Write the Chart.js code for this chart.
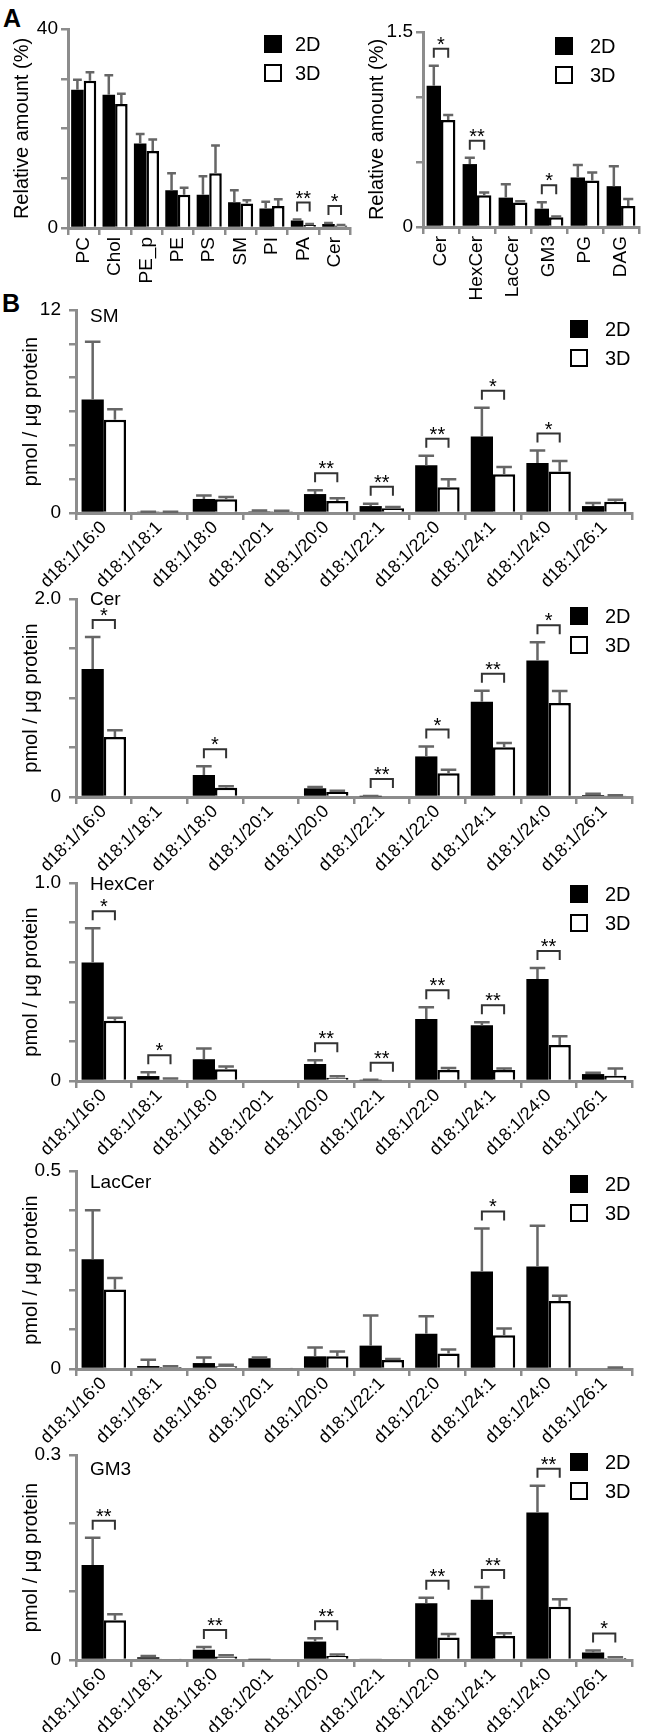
<!DOCTYPE html>
<html lang="en">
  <head>
    <meta charset="UTF-8" />
    <title>Lipid amounts 2D vs 3D</title>
    <script src="https://cdn.jsdelivr.net/npm/chart.js"></script>
    <style>
      body { margin: 0; background: #fff; }
      .fig { position: relative; width: 646px; height: 1732px; overflow: hidden; }
      .fig canvas { position: absolute; }
      .letter { position: absolute; font: bold 25px "Liberation Sans", Arial, sans-serif; }
    </style>
  </head>
  <body>
    <div class="fig">
      <div class="letter" style="left: 3px; top: 4px">A</div>
      <div class="letter" style="left: 2px; top: 289px">B</div>
      <canvas id="aLeft" width="360" height="300" style="left: 0; top: 0"></canvas>
      <canvas id="aRight" width="286" height="320" style="left: 360px; top: 0"></canvas>
      <canvas id="bSM" width="646" height="319" style="left: 0; top: 286px"></canvas>
      <canvas id="bCer" width="646" height="314" style="left: 0; top: 575px"></canvas>
      <canvas id="bHexCer" width="646" height="314" style="left: 0; top: 859px"></canvas>
      <canvas id="bLacCer" width="646" height="314" style="left: 0; top: 1147px"></canvas>
      <canvas id="bGM3" width="646" height="301" style="left: 0; top: 1431px"></canvas>
    </div>
  </body>
</html>

<script>
  // --- panel A: relative amounts (%)
  var lipidClasses = ["PC", "Chol", "PE_p", "PE", "PS", "SM", "PI", "PA", "Cer"];
  var classes2D = [27.8, 26.8, 17.0, 7.6, 6.7, 5.2, 3.9, 1.5, 0.8];
  var classesErr2D = [2.0, 3.9, 1.9, 3.4, 3.7, 2.4, 1.4, 0.2, 0.2];
  var classes3D = [29.6, 24.9, 15.5, 6.7, 11.0, 4.9, 4.4, 0.6, 0.5];
  var classesErr3D = [1.7, 2.1, 2.3, 1.4, 5.6, 0.7, 1.4, 0.2, 0.1];
  var classesSig = ["", "", "", "", "", "", "", "**", "*"];

  var minorClasses = ["Cer", "HexCer", "LacCer", "GM3", "PG", "DAG"];
  var minor2D = [1.086, 0.484, 0.226, 0.141, 0.381, 0.314];
  var minorErr2D = [0.154, 0.049, 0.103, 0.049, 0.095, 0.154];
  var minor3D = [0.823, 0.244, 0.188, 0.075, 0.358, 0.162];
  var minorErr3D = [0.039, 0.021, 0.01, 0.005, 0.061, 0.054];
  var minorSig = ["*", "**", "", "*", "", ""];

  // --- panel B: pmol / ug protein per species
  var species = ["d18:1/16:0", "d18:1/18:1", "d18:1/18:0", "d18:1/20:1", "d18:1/20:0",
                 "d18:1/22:1", "d18:1/22:0", "d18:1/24:1", "d18:1/24:0", "d18:1/26:1"];

  var sm2D = [6.71, 0.06, 0.83, 0.10, 1.12, 0.41, 2.82, 4.52, 2.96, 0.41];
  var smErr2D = [3.41, 0.02, 0.20, 0.05, 0.22, 0.14, 0.57, 1.70, 0.73, 0.18];
  var sm3D = [5.51, 0.06, 0.81, 0.10, 0.71, 0.28, 1.52, 2.29, 2.45, 0.67];
  var smErr3D = [0.63, 0.02, 0.14, 0.03, 0.16, 0.08, 0.47, 0.43, 0.63, 0.12];
  var smSig = ["", "", "", "", "**", "**", "**", "*", "*", ""];

  var cer2D = [1.293, 0, 0.222, 0, 0.088, 0.006, 0.41, 0.963, 1.38, 0.02];
  var cerErr2D = [0.323, 0, 0.088, 0, 0.012, 0.003, 0.10, 0.111, 0.182, 0.012];
  var cer3D = [0.606, 0, 0.094, 0, 0.05, 0, 0.239, 0.502, 0.949, 0.015];
  var cerErr3D = [0.067, 0, 0.014, 0, 0.014, 0, 0.037, 0.043, 0.121, 0.003];
  var cerSig = ["*", "", "*", "", "", "**", "*", "**", "*", ""];

  var hex2D = [0.598, 0.025, 0.11, 0, 0.086, 0.004, 0.313, 0.282, 0.515, 0.035];
  var hexErr2D = [0.174, 0.019, 0.054, 0, 0.019, 0.002, 0.059, 0.015, 0.056, 0.007];
  var hex3D = [0.304, 0.008, 0.059, 0, 0.017, 0, 0.056, 0.056, 0.182, 0.027];
  var hexErr3D = [0.015, 0.004, 0.014, 0, 0.007, 0, 0.01, 0.007, 0.044, 0.036];
  var hexSig = ["*", "*", "", "", "**", "**", "**", "**", "**", ""];

  var lac2D = [0.277, 0.0075, 0.015, 0.027, 0.032, 0.059, 0.089, 0.246, 0.259, 0];
  var lacErr2D = [0.124, 0.016, 0.014, 0.002, 0.022, 0.076, 0.044, 0.109, 0.103, 0];
  var lac3D = [0.201, 0.005, 0.007, 0.002, 0.032, 0.023, 0.039, 0.085, 0.172, 0.003];
  var lacErr3D = [0.029, 0.002, 0.004, 0, 0.012, 0.002, 0.01, 0.017, 0.013, 0.001];
  var lacSig = ["", "", "", "", "", "", "", "*", "", ""];

  var gm2D = [0.139, 0.004, 0.015, 0.001, 0.027, 0.002, 0.083, 0.088, 0.216, 0.011];
  var gmErr2D = [0.04, 0.002, 0.004, 0, 0.005, 0, 0.008, 0.019, 0.039, 0.003];
  var gm3D = [0.058, 0.001, 0.005, 0, 0.006, 0, 0.033, 0.035, 0.078, 0.003];
  var gmErr3D = [0.009, 0, 0.002, 0, 0.002, 0, 0.005, 0.004, 0.011, 0.001];
  var gmSig = ["**", "", "**", "", "**", "", "**", "**", "**", "*"];

  var axisGray = "#8c8c8c";
  var errGray = "#666";
  Chart.defaults.font.family = '"Liberation Sans", Arial, sans-serif';
  Chart.defaults.color = "#000";

  // error bars, significance brackets, legend and panel name
  var annotPlugin = {
    id: "annot",
    afterDatasetsDraw(chart, args, opts) {
      var ctx = chart.ctx;
      var yScale = chart.scales.y;
      var ds = chart.data.datasets;
      var m0 = chart.getDatasetMeta(0);
      var m1 = chart.getDatasetMeta(1);
      ctx.save();

      ctx.strokeStyle = errGray;
      ctx.lineWidth = 2.5;
      ds.forEach(function (d, di) {
        chart.getDatasetMeta(di).data.forEach(function (bar, i) {
          var e = d.errors[i];
          if (!e) return;
          var top = yScale.getPixelForValue(d.data[i] + e);
          var w = bar.width * 0.7;
          ctx.beginPath();
          ctx.moveTo(bar.x, bar.y);
          ctx.lineTo(bar.x, top);
          ctx.moveTo(bar.x - w / 2, top);
          ctx.lineTo(bar.x + w / 2, top);
          ctx.stroke();
        });
      });

      ctx.font = '20px "Liberation Sans", Arial, sans-serif';
      ctx.textAlign = "center";
      ctx.textBaseline = "alphabetic";
      opts.sig.forEach(function (s, i) {
        if (!s) return;
        var b0 = m0.data[i], b1 = m1.data[i];
        var t0 = yScale.getPixelForValue(ds[0].data[i] + ds[0].errors[i]);
        var t1 = yScale.getPixelForValue(ds[1].data[i] + ds[1].errors[i]);
        var ly = Math.min(t0, t1) - 17;
        ctx.strokeStyle = "#333";
        ctx.lineWidth = 2;
        ctx.beginPath();
        ctx.moveTo(b0.x, ly + 9);
        ctx.lineTo(b0.x, ly);
        ctx.lineTo(b1.x, ly);
        ctx.lineTo(b1.x, ly + 9);
        ctx.stroke();
        ctx.fillStyle = "#000";
        ctx.fillText(s, (b0.x + b1.x) / 2, ly + 2);
      });

      // legend
      var lg = opts.legend;
      ctx.textAlign = "left";
      ctx.textBaseline = "middle";
      ctx.font = '20px "Liberation Sans", Arial, sans-serif';
      ds.forEach(function (d, di) {
        var sy = lg.y + di * 29;
        ctx.fillStyle = d.backgroundColor;
        ctx.fillRect(lg.x, sy, 18, 18);
        ctx.strokeStyle = "#000";
        ctx.lineWidth = 2;
        ctx.strokeRect(lg.x + 1, sy + 1, 16, 16);
        ctx.fillStyle = "#000";
        ctx.fillText(d.label, lg.tx, sy + 10);
      });

      if (opts.name) {
        ctx.font = '19px "Liberation Sans", Arial, sans-serif';
        ctx.fillText(opts.name, 90, opts.nameY);
      }
      ctx.restore();
    },
  };

  function makePanel(id, labels, v2, e2, v3, e3, sig, yMax, yStep, yTop, o) {
    new Chart(document.getElementById(id), {
      type: "bar",
      data: {
        labels: labels,
        datasets: [
          { label: "2D", data: v2, errors: e2, backgroundColor: "#000", borderWidth: 0,
            categoryPercentage: 0.8, barPercentage: 1 },
          { label: "3D", data: v3, errors: e3, backgroundColor: "#fff", borderColor: "#000",
            borderWidth: 2.5, categoryPercentage: 0.8, barPercentage: 1 },
        ],
      },
      options: {
        responsive: false,
        animation: false,
        devicePixelRatio: 1,
        layout: { padding: { left: 0, right: o.padR, top: o.padT, bottom: 0 } },
        plugins: {
          legend: { display: false },
          tooltip: { enabled: false },
          annot: { sig: sig, legend: o.legend, name: o.name, nameY: o.nameY },
        },
        scales: {
          x: {
            grid: { offset: true, drawOnChartArea: false, color: axisGray, lineWidth: 2.5, tickLength: 7 },
            border: { color: axisGray, width: 3 },
            ticks: { autoSkip: false, minRotation: o.rot, maxRotation: o.rot, padding: o.xPad,
                     font: { size: o.xFont } },
            afterFit: function (s) { s.height = o.xH; },
          },
          y: {
            min: 0,
            max: yMax,
            grid: { drawOnChartArea: false, color: axisGray, lineWidth: 2.5, tickLength: 7 },
            border: { color: axisGray, width: 3 },
            ticks: {
              stepSize: yStep,
              padding: o.tickPad,
              font: { size: 19 },
              callback: function (v) {
                if (Math.abs(v) < 1e-9) return "0";
                if (Math.abs(v - yMax) < 1e-9) return yTop;
                return "";
              },
            },
            title: { display: true, text: o.yTitle, font: { size: 20 },
                     padding: { top: o.titlePad, bottom: 0 } },
            afterFit: function (s) { s.width = o.yW; },
          },
        },
      },
      plugins: [annotPlugin],
    });
  }

  var relTitle = "Relative amount (%)";
  var pmolTitle = "pmol / \u03bcg protein";

  makePanel("aLeft", lipidClasses, classes2D, classesErr2D, classes3D, classesErr3D, classesSig,
    40, 10, "40",
    { padR: 8, padT: 29, xH: 72, yW: 68, rot: 90, xPad: 2, xFont: 19, tickPad: 3, titlePad: 10,
      yTitle: relTitle, legend: { x: 264, y: 35, tx: 295 } });

  makePanel("aRight", minorClasses, minor2D, minorErr2D, minor3D, minorErr3D, minorSig,
    1.5, 0.5, "1.5",
    { padR: 2, padT: 32, xH: 93, yW: 63, rot: 90, xPad: 2, xFont: 19, tickPad: 3, titlePad: 5,
      yTitle: relTitle, legend: { x: 195, y: 37, tx: 230 } });

  var bOpts = function (xH, legY, name, nameY) {
    return { padR: 14, padT: 24, xH: xH, yW: 76, rot: 45, xPad: -3, xFont: 18, tickPad: 8,
             titlePad: 19, yTitle: pmolTitle, legend: { x: 570, y: 24 + legY, tx: 605 },
             name: name, nameY: 24 + nameY };
  };

  makePanel("bSM", species, sm2D, smErr2D, sm3D, smErr3D, smSig, 12, 2, "12", bOpts(92, 10, "SM", 7));
  makePanel("bCer", species, cer2D, cerErr2D, cer3D, cerErr3D, cerSig, 2, 0.5, "2.0", bOpts(92, 8, "Cer", 1));
  makePanel("bHexCer", species, hex2D, hexErr2D, hex3D, hexErr3D, hexSig, 1, 0.2, "1.0", bOpts(92, 2, "HexCer", 2));
  makePanel("bLacCer", species, lac2D, lacErr2D, lac3D, lacErr3D, lacSig, 0.5, 0.1, "0.5", bOpts(92, 4, "LacCer", 12));
  makePanel("bGM3", species, gm2D, gmErr2D, gm3D, gmErr3D, gmSig, 0.3, 0.1, "0.3", bOpts(72, -2, "GM3", 15));
</script>
